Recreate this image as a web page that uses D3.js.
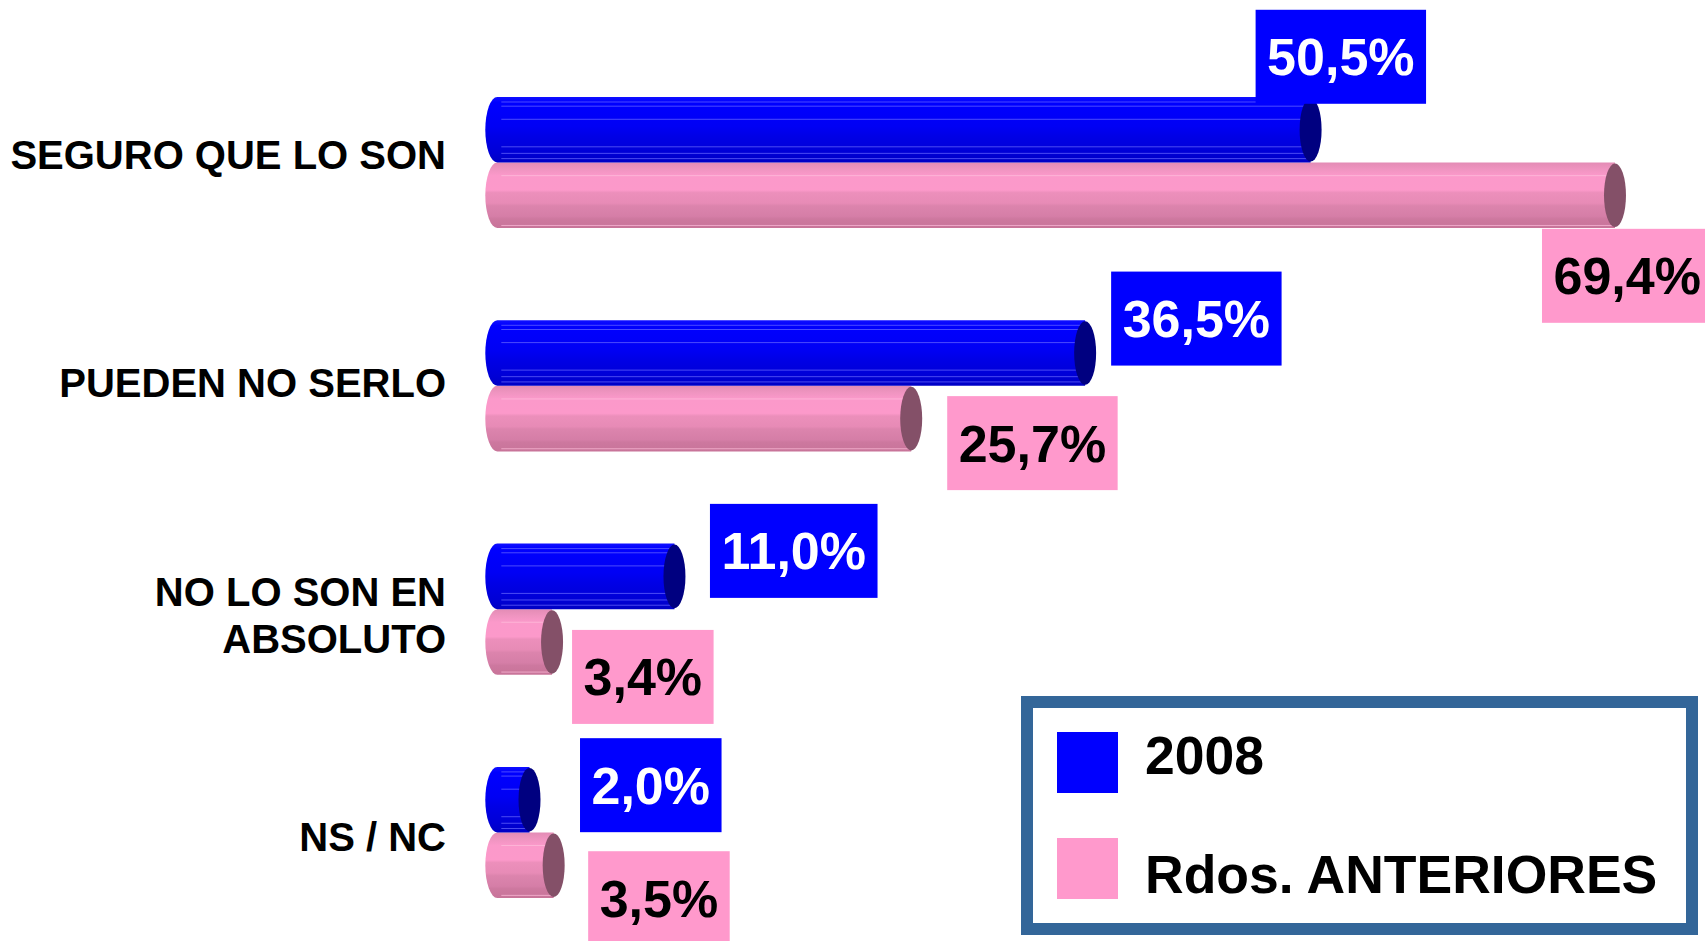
<!DOCTYPE html>
<html>
<head>
<meta charset="utf-8">
<script src="https://cdn.jsdelivr.net/npm/d3@7"></script>
<style>
  html, body { margin: 0; padding: 0; background: #ffffff; }
  svg { display: block; font-family: "Liberation Sans", Arial, sans-serif; }
</style>
</head>
<body>
<svg id="chart" width="1705" height="941"></svg>
<script>
// Categories (a "\n" marks a line break in the label)
const categories = ["SEGURO QUE LO SON", "PUEDEN NO SERLO", "NO LO SON EN\nABSOLUTO", "NS / NC"];
const seriesNames = ["2008", "Rdos. ANTERIORES"];
const values2008 = [50.5, 36.5, 11.0, 2.0];
const valuesAnteriores = [69.4, 25.7, 3.4, 3.5];

// Placement of each value label box: [left edge from bar end, centre from bar centre]
const labelOffsets2008 = [[-55, -73], [26, -34.5], [35.5, -25.5], [50.5, -14.5]];
const labelOffsetsAnteriores = [[-73, 80.5], [36, 24.5], [20, 35], [34.5, 33]];
// Vertical nudge of each category label from its group centre
const categoryNudge = [-8, -3, 6, 5];

const W = 1705, H = 941;
const svg = d3.select("#chart");

const es = d3.formatLocale({ decimal: ",", thousands: ".", grouping: [3], currency: ["", " €"] });
const fmt = v => es.format(".1f")(v) + "%";

const seriesStyle = [
  { key: "2008", grad: "gradBlue", cap: "#000080", swatch: "#0000ff", box: "#0000ff", text: "#ffffff",
    lines: [0.076, 0.14, 0.34, 0.76, 0.86, 0.94], lineColor: "#6b6bff" },
  { key: "ant", grad: "gradPink", cap: "#845068", swatch: "#ff99cc", box: "#ff99cc", text: "#000000",
    lines: [0.2, 0.96], lineColor: "#ffc0dd" }
];

const rows = categories.map((c, i) => ({
  cat: c,
  nudge: categoryNudge[i],
  bars: [
    { s: 0, v: values2008[i], off: labelOffsets2008[i] },
    { s: 1, v: valuesAnteriores[i], off: labelOffsetsAnteriores[i] }
  ]
}));

// Scales
const x = d3.scaleLinear().domain([0, 70]).range([497.3, 497.3 + 70 * 16.105]);
const y = d3.scaleBand().domain(categories).range([50.9, 944.1])
  .paddingInner(0.413).paddingOuter(0.2065);
const ys = d3.scaleBand().domain([0, 1]).range([0, y.bandwidth()]);

// Gradients for the cylinder bodies
const defs = svg.append("defs");
const gBlue = defs.append("linearGradient").attr("id", "gradBlue")
  .attr("x1", 0).attr("y1", 0).attr("x2", 0).attr("y2", 1);
[[0, "#1010ff"], [0.08, "#0000ff"], [0.45, "#0000f4"], [0.6, "#0000e6"], [0.85, "#0000d6"], [1, "#0000c4"]]
  .forEach(([o, c]) => gBlue.append("stop").attr("offset", o).attr("stop-color", c));
const gPink = defs.append("linearGradient").attr("id", "gradPink")
  .attr("x1", 0).attr("y1", 0).attr("x2", 0).attr("y2", 1);
[[0, "#e38cb5"], [0.1, "#ef94c0"], [0.2, "#fb99ca"], [0.42, "#fc99ca"], [0.46, "#ec8fbb"],
 [0.62, "#e78bb6"], [0.66, "#dc84ad"], [0.82, "#d57ea7"], [0.86, "#cd789f"], [1, "#c87499"]]
  .forEach(([o, c]) => gPink.append("stop").attr("offset", o).attr("stop-color", c));

const RX = 12; // horizontal radius of the cylinder ends

function bodyPath(x0, x1, top, h) {
  const ry = h / 2;
  return `M${x0},${top} L${x1},${top} L${x1},${top + h} L${x0},${top + h} ` +
         `A${RX},${ry} 0 0 1 ${x0},${top} Z`;
}

// Cylinders: the back series first so the front one overlaps it
const plot = svg.append("g");
[1, 0].forEach(si => {
  const st = seriesStyle[si];
  const g = plot.append("g");
  rows.forEach(r => {
    const b = r.bars[si];
    const top = y(r.cat) + ys(si);
    const h = ys.bandwidth();
    const x0 = x(0), x1 = x(b.v);
    g.append("path").attr("d", bodyPath(x0, x1, top, h)).attr("fill", `url(#${st.grad})`);
    st.lines.forEach(f => {
      g.append("line")
        .attr("x1", x0 + 4).attr("x2", x1)
        .attr("y1", top + f * h).attr("y2", top + f * h)
        .attr("stroke", st.lineColor).attr("stroke-width", 1).attr("opacity", 0.7);
    });
    g.append("ellipse")
      .attr("cx", x1).attr("cy", top + h / 2)
      .attr("rx", RX - 1).attr("ry", h / 2 - 1)
      .attr("fill", st.cap);
  });
});

// Category labels
const catG = svg.append("g");
rows.forEach(r => {
  const lines = r.cat.split("\n");
  const cy = y(r.cat) + y.bandwidth() / 2 + r.nudge;
  const lh = 47;
  const t = catG.append("text")
    .attr("text-anchor", "end")
    .attr("font-size", 40).attr("font-weight", "bold").attr("fill", "#000");
  lines.forEach((ln, k) => {
    t.append("tspan")
      .attr("x", 446)
      .attr("y", cy + (k - (lines.length - 1) / 2) * lh + 14)
      .text(ln);
  });
});

// Value labels in coloured boxes
const lblG = svg.append("g");
rows.forEach(r => {
  r.bars.forEach(b => {
    const st = seriesStyle[b.s];
    const barCy = y(r.cat) + ys(b.s) + ys.bandwidth() / 2;
    const left = x(b.v) + b.off[0];
    const cy = barCy + b.off[1];
    const t = lblG.append("text")
      .attr("font-size", 52).attr("font-weight", "bold").attr("fill", st.text)
      .attr("x", left + 11.5).attr("y", cy + 18.5)
      .text(fmt(b.v));
    const tw = t.node().getComputedTextLength();
    lblG.insert("rect", () => t.node())
      .attr("x", left).attr("y", cy - 47)
      .attr("width", tw + 23).attr("height", 94)
      .attr("fill", st.box);
  });
});

// Legend
const leg = svg.append("g");
leg.append("rect")
  .attr("x", 1027).attr("y", 702).attr("width", 665).attr("height", 227)
  .attr("fill", "#ffffff").attr("stroke", "#336699").attr("stroke-width", 12);
seriesNames.forEach((name, i) => {
  const sy = 732 + i * 106;
  leg.append("rect").attr("x", 1057).attr("y", sy).attr("width", 61).attr("height", 61)
    .attr("fill", seriesStyle[i].swatch);
  leg.append("text").attr("x", 1145).attr("y", sy + 42 + (i ? 13 : 0))
    .attr("font-size", 53.5).attr("font-weight", "bold").attr("fill", "#000")
    .text(name);
});
</script>
</body>
</html>
